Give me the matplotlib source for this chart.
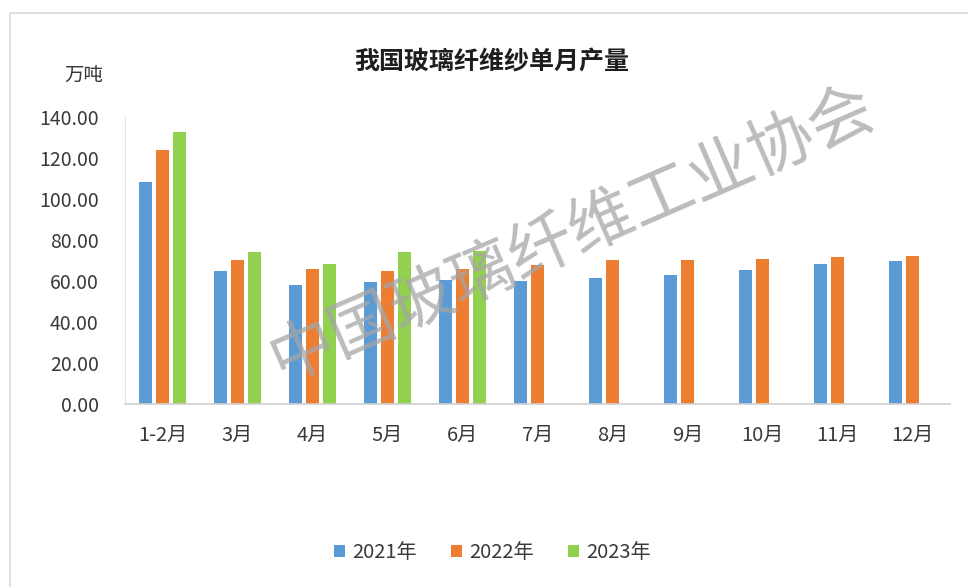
import numpy as np
import matplotlib
matplotlib.use("Agg")
import matplotlib.pyplot as plt
from matplotlib.patches import Rectangle
from matplotlib.ticker import FormatStrFormatter

plt.rcParams["font.family"] = ["Noto Sans CJK SC", "DejaVu Sans"]

months = ["1-2月", "3月", "4月", "5月", "6月", "7月", "8月", "9月", "10月", "11月", "12月"]
y2021 = [108.1, 65.0, 57.9, 59.5, 60.3, 59.8, 61.4, 62.7, 65.2, 68.4, 70.0]
y2022 = [124.0, 70.2, 65.8, 65.0, 66.0, 67.9, 70.4, 70.4, 70.9, 71.7, 72.0]
y2023 = [132.8, 74.1, 68.4, 74.1, 74.4, np.nan, np.nan, np.nan, np.nan, np.nan, np.nan]
series_names = ["2021年", "2022年", "2023年"]
colors = ["#5B9BD5", "#ED7D31", "#92D050"]
text_color = "#3a3a3a"

fig = plt.figure(figsize=(9.68, 5.87), dpi=100)
W, H = 968, 587
ax = fig.add_axes([125 / W, (H - 404) / H, 825 / W, 287 / H])

x = np.arange(len(months))
width = 0.175
step = 0.228
for i, (vals, name, c) in enumerate(zip([y2021, y2022, y2023], series_names, colors)):
    ax.bar(x + (i - 1) * step, vals, width, color=c, label=name)

ax.set_xlim(-0.5, len(months) - 0.5)
ax.set_ylim(0, 140)
ax.set_yticks(np.arange(0, 141, 20))
ax.yaxis.set_major_formatter(FormatStrFormatter("%.2f"))
ax.set_xticks(x)
ax.set_xticklabels(months)
ax.tick_params(axis="y", length=0, pad=19, labelsize=14, colors=text_color)
ax.tick_params(axis="x", length=0, pad=15, labelsize=14.5, colors=text_color)

for side in ["top", "right"]:
    ax.spines[side].set_visible(False)
ax.spines["left"].set_color("#e2e2e2")
ax.spines["bottom"].set_color("#d0d0d0")
ax.spines["bottom"].set_linewidth(1.2)

fig.text(492 / W, 1 - 62 / H, "我国玻璃纤维纱单月产量", ha="center", va="center",
         fontsize=18, fontweight="bold", color="#1e1e1e")
fig.text(84 / W, 1 - 75 / H, "万吨", ha="center", va="center", fontsize=14, color=text_color)

# watermark
fig.text(573 / W, 1 - 234 / H, "中国玻璃纤维工业协会", ha="center", va="center",
         fontsize=47, rotation=23.5, color="#a5a5a5", fontweight="light", alpha=0.75,
         zorder=10)

# outer frame
fig.patches.append(Rectangle((10 / W, -0.05), 1.1, 1 - 13 / H + 0.05, transform=fig.transFigure,
                             fill=False, edgecolor="#d9d9d9", linewidth=1.2))

fig.legend(loc="center", bbox_to_anchor=(492 / W, 1 - 553 / H), ncol=3, frameon=False,
           fontsize=14.5, handlelength=0.55, handleheight=0.55, handletextpad=0.35,
           columnspacing=1.7, labelcolor=text_color)

fig.savefig("out.png", dpi=100)
